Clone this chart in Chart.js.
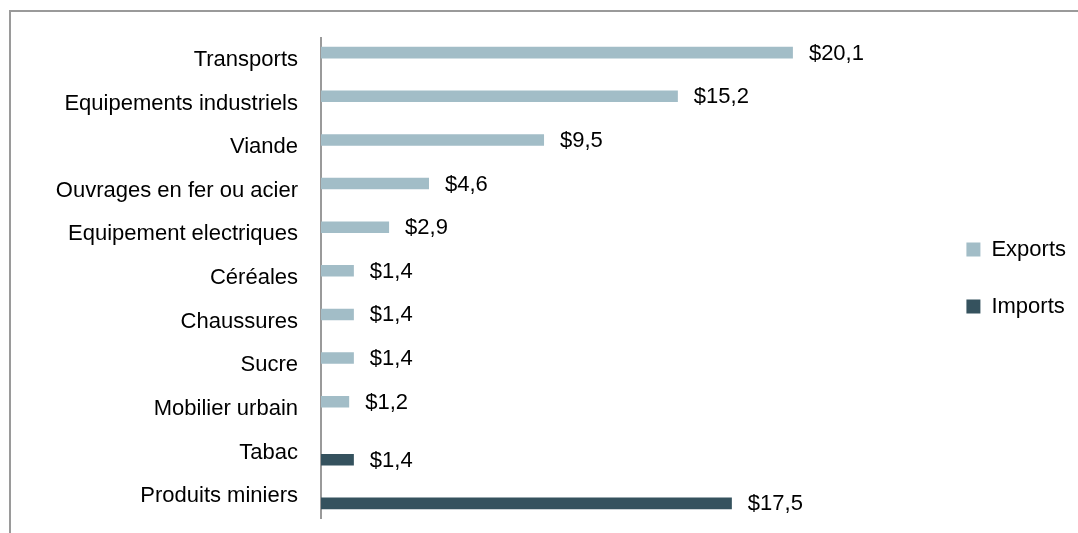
<!DOCTYPE html>
<html lang="fr">
<head>
    <meta charset="UTF-8">
    <title>Exports et imports</title>
    <script src="https://cdn.jsdelivr.net/npm/chart.js"></script>
    <style>
        html, body { margin: 0; padding: 0; overflow: hidden; background: #fff; }
        .frame { position: absolute; left: 9px; top: 10px; width: 2000px; height: 2000px;
                 border-top: 2px solid #9a9a9a; border-left: 2px solid #9a9a9a; }
        .chart-container { position: absolute; left: 0; top: 0; width: 1078px; height: 533px; }
    </style>
</head>
<body>
    <div class="frame"></div>
    <div class="chart-container">
        <canvas id="tradeChart"></canvas>
    </div>

    <script>
        // Data
        const categories = [
            'Transports', 'Equipements industriels', 'Viande', 'Ouvrages en fer ou acier',
            'Equipement electriques', 'Céréales', 'Chaussures', 'Sucre', 'Mobilier urbain',
            'Tabac', 'Produits miniers'
        ];
        const exportsValues = [20.1, 15.2, 9.5, 4.6, 2.9, 1.4, 1.4, 1.4, 1.2, null, null];
        const importsValues = [null, null, null, null, null, null, null, null, null, 1.4, 17.5];

        const FONT = { family: '"Liberation Sans", Arial, sans-serif', size: 22 };

        // Value labels at the end of each bar
        const valueLabels = {
            id: 'valueLabels',
            afterDatasetsDraw(chart) {
                const ctx = chart.ctx;
                ctx.save();
                ctx.font = FONT.size + 'px ' + FONT.family;
                ctx.fillStyle = '#000';
                ctx.textBaseline = 'middle';
                ctx.textAlign = 'left';
                chart.data.datasets.forEach((ds, i) => {
                    const meta = chart.getDatasetMeta(i);
                    meta.data.forEach((bar, j) => {
                        const v = ds.data[j];
                        if (v === null || v === undefined) return;
                        ctx.fillText('$' + v.toFixed(1).replace('.', ','), bar.x + 16, bar.y + 1);
                    });
                });
                ctx.restore();
            }
        };

        const ctx = document.getElementById('tradeChart').getContext('2d');
        const tradeChart = new Chart(ctx, {
            type: 'bar',
            data: {
                labels: categories,
                datasets: [
                    {
                        label: 'Exports',
                        data: exportsValues,
                        backgroundColor: '#a2bdc7',
                        categoryPercentage: 0.66,
                        barPercentage: 0.8
                    },
                    {
                        label: 'Imports',
                        data: importsValues,
                        backgroundColor: '#35525e',
                        categoryPercentage: 0.66,
                        barPercentage: 0.8
                    }
                ]
            },
            options: {
                indexAxis: 'y',
                responsive: true,
                maintainAspectRatio: false,
                animation: false,
                layout: {
                    padding: { left: 0, right: 2, top: 38, bottom: 15 }
                },
                scales: {
                    x: {
                        display: false,
                        min: 0,
                        max: 26
                    },
                    y: {
                        // invisible tick marks give the gap between labels and axis
                        grid: {
                            display: true,
                            drawOnChartArea: false,
                            drawTicks: true,
                            tickLength: 23,
                            color: 'rgba(0,0,0,0)'
                        },
                        border: { display: true, color: '#9a9a9a', width: 2 },
                        ticks: {
                            color: '#000',
                            font: FONT,
                            padding: 0
                        },
                        afterFit(scale) { scale.width = 321; }
                    }
                },
                plugins: {
                    legend: {
                        position: 'right',
                        align: 'center',
                        labels: {
                            boxWidth: 14,
                            boxHeight: 14,
                            padding: 35,
                            color: '#000',
                            font: FONT
                        }
                    },
                    tooltip: { enabled: false }
                }
            },
            plugins: [valueLabels]
        });
    </script>
</body>
</html>
